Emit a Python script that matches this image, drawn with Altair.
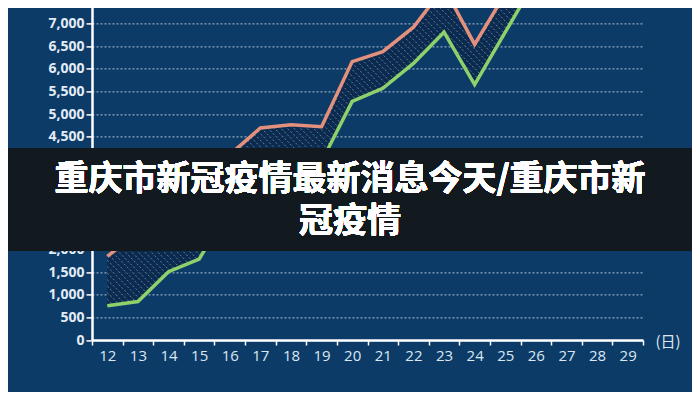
import altair as alt
import pandas as pd
import numpy as np

# ---- data ----
days = list(range(12, 27))
upper = [1850, 2380, 2960, 2830, 4100, 4690, 4760, 4720, 6160, 6380, 6920, 7800, 6540, 7660, 8600]
lower = [760, 850, 1510, 1790, 2920, 3190, 3430, 3950, 5280, 5570, 6120, 6810, 5650, 6810, 7970]
x_ticks = [11.5 + i for i in range(19)]
y_ticks = list(range(0, 8001, 500))
banner_line1 = "重庆市新冠疫情最新消息今天/重庆市新"
banner_line2 = "冠疫情"
x_title = "(日)"

# ---- geometry / style ----
W, H = 551, 361.6
XMIN, XMAX = 11.5, 29.5
YMAX = 8000
BG = "#0c3b68"
RED = "#e3907c"
GREEN = "#8ed16b"

df = pd.DataFrame({"day": days, "upper": upper, "lower": lower})
long = pd.concat([
    pd.DataFrame({"day": days, "value": upper, "series": "upper"}),
    pd.DataFrame({"day": days, "value": lower, "series": "lower"}),
])

# hatch segments (diagonal "\" lines) between the two series
sx = W / (XMAX - XMIN)
sy = H / YMAX
u_pts = (np.array(days, float) - XMIN) * sx
lo_pts = np.array(lower, float) * sy
hi_pts = np.array(upper, float) * sy
u = np.arange(u_pts[0], u_pts[-1] + 1e-9, 0.5)
lo = np.interp(u, u_pts, lo_pts)
hi = np.interp(u, u_pts, hi_pts)
segs = []
step = 6.5
for c in np.arange(u_pts[0] + lo_pts.min(), u_pts[-1] + hi_pts.max(), step):
    v = c - u
    inside = ((v > lo) & (v < hi)).astype(int)
    idx = np.flatnonzero(np.diff(np.concatenate([[0], inside, [0]])))
    for s, e in zip(idx[::2], idx[1::2]):
        if e - s < 2:
            continue
        u0, u1 = u[s], u[e - 1]
        segs.append({"x": u0 / sx + XMIN, "y": (c - u0) / sy,
                     "x2": u1 / sx + XMIN, "y2": (c - u1) / sy})
hatch = pd.DataFrame(segs)

xscale = alt.Scale(domain=[XMIN, XMAX], nice=False, zero=False)
yscale = alt.Scale(domain=[0, YMAX], nice=False)

x_axis = alt.Axis(
    values=x_ticks,
    labelExpr="datum.value < 29 ? format(datum.value + 0.5, 'd') : ''",
    labelOffset=sx / 2,
    labelFlush=False,
    labelOverlap=False,
    labelColor="#dde7f1",
    labelFontSize=15,
    labelFont="Open Sans",
    labelPadding=3,
    tickSize=5,
    tickColor="#ffffff",
    tickWidth=1.5,
    domainColor="#ffffff",
    domainWidth=2.5,
    grid=False,
    title=x_title,
    titleX=W + 12,
    titleY=1,
    titleAlign="left",
    titleBaseline="middle",
    titleAngle=0,
    titleColor="#dde7f1",
    titleFontSize=15,
    titleFontWeight="normal",
    titleFont="Noto Sans CJK SC",
)
y_axis = alt.Axis(
    values=y_ticks,
    format=",.0f",
    labelColor="#e3ebf4",
    labelFontSize=14,
    labelFontWeight="bold",
    labelFont="Open Sans",
    labelPadding=2,
    tickSize=6,
    tickColor="#ffffff",
    tickWidth=1.5,
    domainColor="#ffffff",
    domainWidth=2.5,
    grid=True,
    gridColor="#ffffff",
    gridDash=[2, 2],
    gridOpacity=0.7,
    gridWidth=1,
    title=None,
)

area = alt.Chart(df).mark_area(color="#0a2a4d", opacity=0.9, clip=True).encode(
    x=alt.X("day:Q", scale=xscale, axis=x_axis),
    y=alt.Y("upper:Q", scale=yscale, axis=y_axis),
    y2="lower:Q",
)

hatch_layer = alt.Chart(hatch).mark_rule(
    color="#ffffff", opacity=0.5, strokeWidth=0.8, strokeDash=[2, 2], clip=True
).encode(
    x=alt.X("x:Q", scale=xscale, axis=x_axis),
    y=alt.Y("y:Q", scale=yscale, axis=y_axis),
    x2="x2:Q",
    y2="y2:Q",
)

lines = alt.Chart(long).mark_line(strokeWidth=3.5, clip=True).encode(
    x=alt.X("day:Q", scale=xscale, axis=x_axis),
    y=alt.Y("value:Q", scale=yscale, axis=y_axis),
    color=alt.Color("series:N", scale=alt.Scale(domain=["upper", "lower"], range=[RED, GREEN]), legend=None),
    detail="series:N",
)

# local y = page y + 21.6 ; local x = page x - 92
banner = alt.Chart(df).mark_rect(color="#131a21", opacity=0.76).encode(
    x=alt.value(-84), x2=alt.value(W + 49), y=alt.value(169.6), y2=alt.value(272.6)
)
text1 = alt.Chart(df).mark_text(
    text=banner_line1, font="Noto Sans CJK SC", fontSize=34, fontWeight="bold",
    color="#ffffff", align="center", baseline="middle"
).encode(x=alt.value(258), y=alt.value(201.6))
text2 = alt.Chart(df).mark_text(
    text=banner_line2, font="Noto Sans CJK SC", fontSize=34, fontWeight="bold",
    color="#ffffff", align="center", baseline="middle"
).encode(x=alt.value(258), y=alt.value(243.6))

chart = alt.layer(area, hatch_layer, lines, banner, text1, text2).properties(
    width=W,
    height=H,
    autosize=alt.AutoSizeParams(type="none"),
    padding={"left": 84, "top": -29.6, "right": 49, "bottom": 52},
    background=BG,
).configure_view(stroke=None)

chart.save("out.html", embed_options={"renderer": "svg", "actions": False})
